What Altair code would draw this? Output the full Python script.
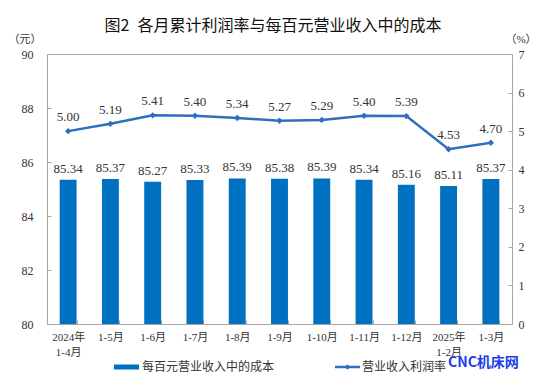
import altair as alt
import pandas as pd

categories = ["2024年\n1-4月", "1-5月", "1-6月", "1-7月", "1-8月", "1-9月",
              "1-10月", "1-11月", "1-12月", "2025年\n1-2月", "1-3月"]
cost_per_100 = [85.34, 85.37, 85.27, 85.33, 85.39, 85.38, 85.39, 85.34, 85.16, 85.11, 85.37]
profit_margin = [5.00, 5.19, 5.41, 5.40, 5.34, 5.27, 5.29, 5.40, 5.39, 4.53, 4.70]
left_ticks = [80, 82, 84, 86, 88, 90]
right_ticks = [0, 1, 2, 3, 4, 5, 6, 7]

title_text = "图2\u2002各月累计利润率与每百元营业收入中的成本"
bar_name = "每百元营业收入中的成本"
line_name = "营业收入利润率"

df = pd.DataFrame({
    "cat": categories,
    "cost": cost_per_100,
    "margin": profit_margin,
    "cost_lbl": [f"{v:.2f}" for v in cost_per_100],
    "margin_lbl": [f"{v:.2f}" for v in profit_margin],
})

SERIF = "'Liberation Serif', 'Times New Roman', 'Noto Sans CJK SC', serif"
SANS = "'Noto Sans CJK SC', sans-serif"
BAR_C = "#0070C0"
LINE_C = "#2E6FBE"
GRID_C = "#A6A6A6"
TXT_C = "#333333"

xenc = alt.X("cat:N", sort=categories, title=None,
             scale=alt.Scale(paddingInner=0.6, paddingOuter=0.3),
             axis=alt.Axis(labelAngle=0, domain=False, tickBand="extent",
                           tickSize=4, offset=-4, tickColor=GRID_C,
                           labelPadding=7, labelFont=SERIF, labelFontSize=11,
                           labelColor=TXT_C, labelLineHeight=15,
                           labelExpr="split(datum.label, '\\n')"))

yleft = alt.Y("cost:Q", title=None,
              scale=alt.Scale(domain=[80, 90], nice=False, zero=False),
              axis=alt.Axis(orient="left", values=left_ticks, domain=False, grid=False,
                            tickSize=4, offset=-4, tickColor=GRID_C, labelPadding=14,
                            labelOverlap=False,
                            labelFont=SERIF, labelFontSize=12, labelColor=TXT_C))

yright = alt.Y("margin:Q", title=None,
               scale=alt.Scale(domain=[0, 7], nice=False, zero=True),
               axis=alt.Axis(orient="right", values=right_ticks, domain=False, grid=False,
                             tickSize=4, offset=-4, tickColor=GRID_C, labelPadding=6,
                             labelOverlap=False,
                             labelFont=SERIF, labelFontSize=12, labelColor=TXT_C))

base = alt.Chart(df)

bars = base.mark_bar(color=BAR_C).encode(x=xenc, y=yleft, y2=alt.datum(80))
bar_txt = base.mark_text(font=SERIF, fontSize=13, color=TXT_C, baseline="bottom", dy=-4).encode(
    x=xenc, y=yleft, text="cost_lbl:N")
bar_layer = alt.layer(bars, bar_txt)

line = base.mark_line(color=LINE_C, strokeWidth=2.5).encode(x=xenc, y=yright)
pts = base.mark_point(shape="diamond", filled=True, color=LINE_C, size=40, opacity=1).encode(
    x=xenc, y=yright)
line_txt = base.mark_text(font=SERIF, fontSize=13, color=TXT_C, baseline="bottom", dy=-7).encode(
    x=xenc, y=yright, text="margin_lbl:N")
line_layer = alt.layer(line, pts, line_txt)

one = pd.DataFrame({"k": [0]})
deco = alt.Chart(one)

title = deco.mark_text(font=SANS, fontSize=16, color="#111111", align="center",
                       baseline="middle", text=title_text).encode(
    x=alt.value(226), y=alt.value(-28))
unit_l = deco.mark_text(font=SERIF, fontSize=11, color=TXT_C, align="center",
                        baseline="middle", text="（元）").encode(
    x=alt.value(-22), y=alt.value(-14))
unit_r = deco.mark_text(font=SERIF, fontSize=11, color=TXT_C, align="center",
                        baseline="middle", text="（%）").encode(
    x=alt.value(474), y=alt.value(-14))

leg_bar = deco.mark_rule(color=BAR_C, strokeWidth=5).encode(
    x=alt.value(67), x2=alt.value(92), y=alt.value(313))
leg_bar_t = deco.mark_text(font=SERIF, fontSize=12, color=TXT_C, align="left",
                           baseline="middle", text=bar_name).encode(
    x=alt.value(95), y=alt.value(313))
leg_line = deco.mark_rule(color=LINE_C, strokeWidth=2.5).encode(
    x=alt.value(288), x2=alt.value(313), y=alt.value(313))
leg_pt = deco.mark_point(shape="diamond", filled=True, color=LINE_C, size=30, opacity=1).encode(
    x=alt.value(300.5), y=alt.value(313))
leg_line_t = deco.mark_text(font=SERIF, fontSize=12, color=TXT_C, align="left",
                            baseline="middle", text=line_name).encode(
    x=alt.value(315), y=alt.value(313))
watermark = deco.mark_text(font=SANS, fontSize=14, fontWeight="bold", color="#1A3CE6",
                           align="left", baseline="middle", text="CNC机床网").encode(
    x=alt.value(401), y=alt.value(309))

chart = alt.layer(
    bar_layer, line_layer,
    title, unit_l, unit_r, leg_bar, leg_bar_t, leg_line, leg_pt, leg_line_t, watermark
).resolve_scale(y="independent").properties(
    width=465, height=270,
    autosize=alt.AutoSizeParams(type="none"),
    padding={"left": 39, "top": 46, "right": 33, "bottom": 60},
    background="white",
).configure_view(stroke=GRID_C, strokeWidth=1)

chart.save("out.html", embed_options={"renderer": "svg", "actions": False})
